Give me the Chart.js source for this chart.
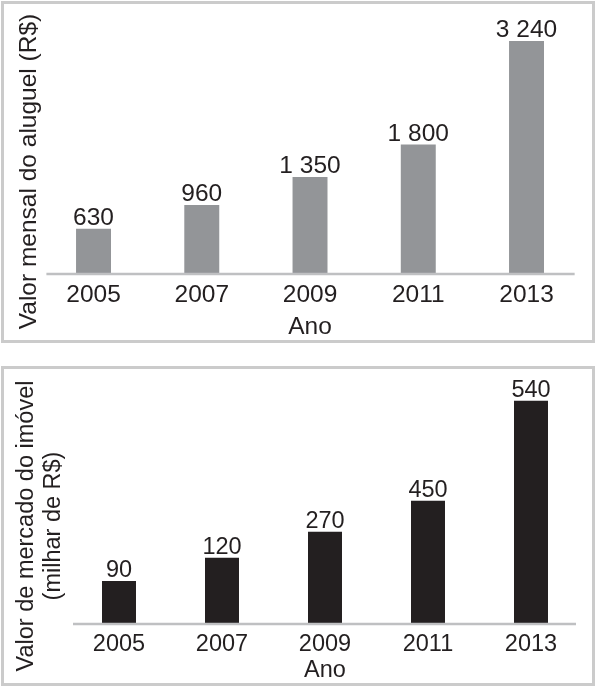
<!DOCTYPE html>
<html><head><meta charset="utf-8">
<script src="https://cdn.jsdelivr.net/npm/chart.js@4.4.1/dist/chart.umd.min.js"></script>
<style>
html,body{margin:0;padding:0;background:#fff;}
.panel{position:absolute;left:1px;width:594px;box-sizing:border-box;border:3px solid #cbcbcb;background:#fff;}
#p1{top:1px;height:342px;}
#p2{top:366px;height:320px;}
canvas{display:block;}
</style></head><body>
<div class="panel" id="p1"><canvas id="c1" width="588" height="336"></canvas></div>
<div class="panel" id="p2"><canvas id="c2" width="588" height="314"></canvas></div>
<script>
// ---- data ----
const anos = ['2005', '2007', '2009', '2011', '2013'];
const aluguel = [630, 960, 1350, 1800, 3240];          // Valor mensal do aluguel (R$)
const imovelRotulos = [90, 120, 270, 450, 540];         // printed values, milhar de R$
const imovelAlturas = [104, 160, 223, 298, 540];        // bar heights as drawn in the picture (scale set by the 540 bar)

const FONT = '"Liberation Sans", Arial, Helvetica, sans-serif';
const TXT = '#231f20';

const fmt = v => String(v).replace(/\B(?=(\d{3})+(?!\d))/g, ' ');

const valueLabels = {
  id: 'valueLabels',
  afterDatasetsDraw(chart, args, opts) {
    const ctx = chart.ctx;
    const meta = chart.getDatasetMeta(0);
    ctx.save();
    ctx.fillStyle = TXT;
    ctx.font = opts.size + 'px ' + FONT;
    ctx.textAlign = 'center';
    ctx.textBaseline = 'alphabetic';
    meta.data.forEach((bar, i) => {
      ctx.fillText(fmt(opts.labels[i]), bar.x, bar.y - opts.gap);
    });
    ctx.restore();
  }
};

const baseLine = {
  id: 'baseLine',
  afterDatasetsDraw(chart, args, opts) {
    const ctx = chart.ctx;
    const a = chart.chartArea;
    const y = chart.scales.y.getPixelForValue(0);
    ctx.save();
    ctx.strokeStyle = '#bfc0c2';
    ctx.lineWidth = 2.5;
    ctx.beginPath();
    ctx.moveTo(a.left + opts.insetL, y);
    ctx.lineTo(a.right - opts.insetR, y);
    ctx.stroke();
    ctx.restore();
  }
};

const yTitle = {
  id: 'yTitle',
  afterDraw(chart, args, opts) {
    const ctx = chart.ctx;
    ctx.save();
    ctx.fillStyle = TXT;
    ctx.font = opts.size + 'px ' + FONT;
    ctx.textAlign = 'center';
    ctx.textBaseline = 'alphabetic';
    ctx.translate(0, opts.cy);
    ctx.rotate(-Math.PI / 2);
    opts.lines.forEach((t, i) => {
      ctx.fillText(t, 0, opts.x + i * opts.lineGap);
    });
    ctx.restore();
  }
};

function makeChart(id, o) {
  return new Chart(document.getElementById(id), {
    type: 'bar',
    data: {
      labels: anos,
      datasets: [{
        data: o.data,
        backgroundColor: o.color,
        borderWidth: 0,
        barPercentage: o.barPct,
        categoryPercentage: 1
      }]
    },
    options: {
      responsive: false,
      devicePixelRatio: 1,
      animation: false,
      events: [],
      layout: { padding: o.padding },
      plugins: {
        legend: { display: false },
        tooltip: { enabled: false },
        valueLabels: { labels: o.labels, size: o.size, gap: 4 },
        baseLine: { insetL: o.insetL, insetR: o.insetR },
        yTitle: o.yTitle
      },
      scales: {
        x: {
          grid: { display: false, drawTicks: false },
          border: { display: false },
          ticks: { color: TXT, font: { family: FONT, size: o.size, lineHeight: 1.2 }, padding: o.tickPad },
          title: { display: true, text: 'Ano', color: TXT,
                   font: { family: FONT, size: o.size, lineHeight: o.titleLH },
                   padding: o.titlePad }
        },
        y: { display: false, min: 0, max: o.max }
      }
    },
    plugins: [valueLabels, baseLine, yTitle]
  });
}

makeChart('c1', {
  data: aluguel, labels: aluguel, color: '#939598', barPct: 0.323,
  size: 24.5, max: 3600,
  padding: { left: 35.4, right: 11.35, top: 11, bottom: 0 },
  tickPad: 6.4, titleLH: 0.9, titlePad: { top: 0.15, bottom: 1.6 },
  insetL: 7, insetR: 6,
  yTitle: { lines: ['Valor mensal do aluguel (R$)'], size: 24.5, x: 32, cy: 167.5, lineGap: 27 }
});

makeChart('c2', {
  data: imovelAlturas, labels: imovelRotulos, color: '#231f20', barPct: 0.33,
  size: 23.5, max: 600,
  padding: { left: 63.5, right: 9.5, top: 7, bottom: 0 },
  tickPad: 6.1, titleLH: 1.0, titlePad: { top: -5.75, bottom: 0.85 },
  insetL: 5.5, insetR: 6.5,
  yTitle: { lines: ['Valor de mercado do imóvel', '(milhar de R$)'], size: 23.5, x: 29.3, cy: 157, lineGap: 27 }
});
</script>
</body></html>
